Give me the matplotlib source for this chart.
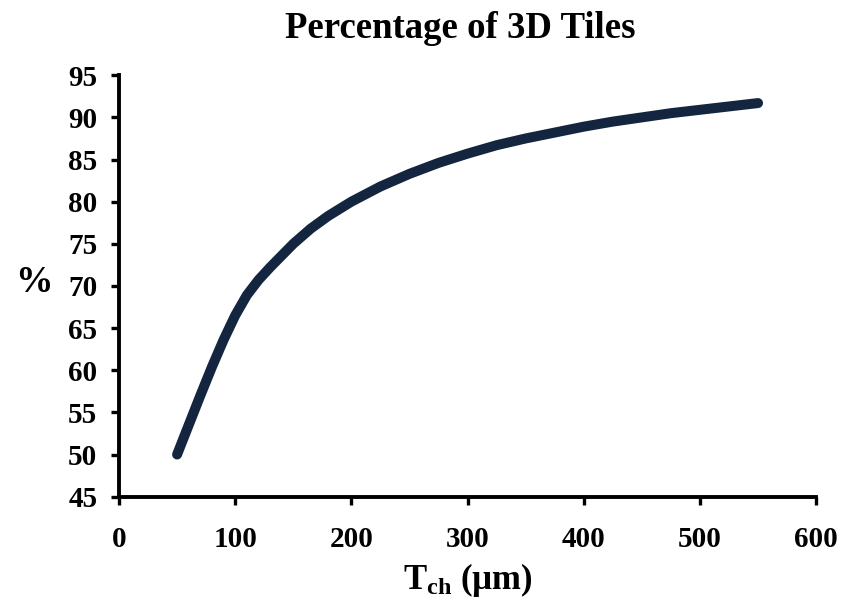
import matplotlib
matplotlib.use("Agg")
import matplotlib.pyplot as plt

# Channel thickness T_ch (µm) and percentage of 3D tiles
t_ch = [50, 60, 70, 80, 90, 100, 110, 120, 130, 140, 150, 165, 180, 200,
        225, 250, 275, 300, 325, 350, 375, 400, 425, 450, 475, 500, 525, 550]
pct_3d = [50.0, 53.5, 57.0, 60.4, 63.6, 66.5, 68.9, 70.7, 72.2, 73.6, 75.0,
          76.8, 78.3, 80.0, 81.8, 83.3, 84.6, 85.7, 86.7, 87.5, 88.2, 88.9,
          89.5, 90.0, 90.5, 90.9, 91.3, 91.7]

x_ticks = [0, 100, 200, 300, 400, 500, 600]
y_ticks = [45, 50, 55, 60, 65, 70, 75, 80, 85, 90, 95]

plt.rcParams["font.family"] = ["Liberation Serif", "DejaVu Serif"]
plt.rcParams["font.weight"] = "bold"
plt.rcParams["mathtext.fontset"] = "custom"
plt.rcParams["mathtext.rm"] = "Liberation Serif:bold"
plt.rcParams["mathtext.bf"] = "Liberation Serif:bold"
plt.rcParams["mathtext.it"] = "Liberation Serif:bold"

fig = plt.figure(figsize=(8.44, 6.02), dpi=100)
ax = fig.add_axes([0.141, 0.175, 0.826, 0.700])

ax.plot(t_ch, pct_3d, color="#13253f", linewidth=7.2,
        solid_capstyle="round", solid_joinstyle="round")

ax.set_xlim(0, 600)
ax.set_ylim(45, 95)
ax.set_xticks(x_ticks)
ax.set_yticks(y_ticks)
ax.set_xticklabels([str(v) for v in x_ticks])
ax.set_yticklabels([str(v) for v in y_ticks])

for side in ("top", "right"):
    ax.spines[side].set_visible(False)
for side in ("left", "bottom"):
    ax.spines[side].set_linewidth(2.8)
    ax.spines[side].set_color("black")

ax.tick_params(axis="both", direction="out", length=6, width=2.4,
               labelsize=21, colors="black")
ax.tick_params(axis="x", pad=15)
ax.tick_params(axis="y", pad=9.5)

fig.text(460 / 844, 1 - 28 / 602, "Percentage of 3D Tiles",
         ha="center", va="center", fontsize=26.5, fontweight="bold")
fig.text(34 / 844, 1 - 283 / 602, "%", ha="center", va="center",
         fontsize=27, fontweight="bold")
fig.text(468 / 844, 1 - 580 / 602, r"$\mathbf{T}_{\mathbf{ch}}$ (µm)",
         ha="center", va="center", fontsize=25, fontweight="bold")

fig.savefig("out.png", dpi=100)
